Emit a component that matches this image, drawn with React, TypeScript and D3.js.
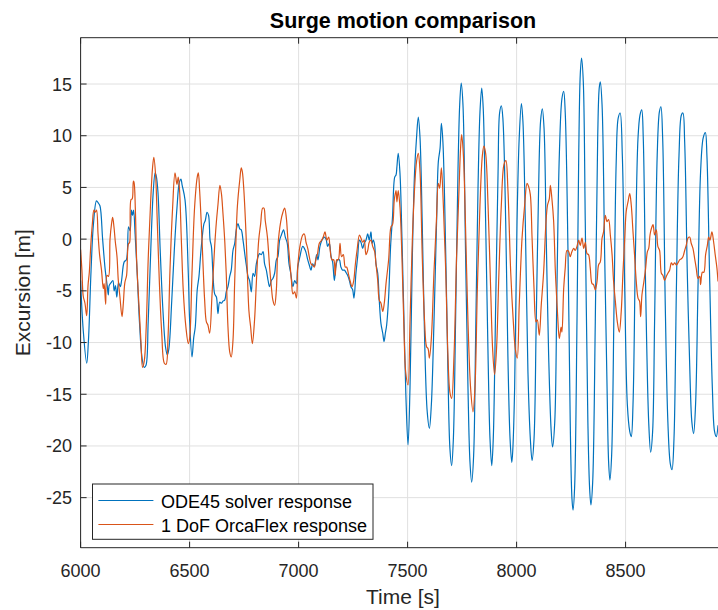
import React from "react";
import * as d3 from "d3";

const title = "Surge motion comparison";
const xLabel = "Time [s]";
const yLabel = "Excursion [m]";
const seriesNames = ["ODE45 solver response", "1 DoF OrcaFlex response"];
const xTicks = [6000, 6500, 7000, 7500, 8000, 8500];
const yTicks = [-25, -20, -15, -10, -5, 0, 5, 10, 15];

// ODE45 solver response: [time s, excursion m]
const odeSeries: [number, number][] = [
  [6000,-4],[6012,-8.8],[6028,-12.0],[6036,-9.8],[6048,-3],[6059,1.5],[6073,3.7],[6081,3.5],[6089,3.2],[6101,0],[6113,-3],[6122,-4.5],[6127,-5.4],[6131,-4.5],[6140,-4.2],[6148,-4.0],[6154,-5.0],[6160,-4.5],[6166,-5.6],[6174,-4.2],[6182,-4.6],[6188,-4.0],[6200,-2.2],[6210,-2.0],[6220,1.2],[6227,0.8],[6233,2.8],[6238,2.3],[6243,2.8],[6250,0.5],[6260,-3.5],[6270,-8],[6282,-11.5],[6292,-12.4],[6300,-12.2],[6310,-8],[6322,-1],[6333,4.5],[6342,6.4],[6348,6.0],[6355,4.5],[6365,-1],[6378,-7],[6390,-10.5],[6398,-11.2],[6405,-10.6],[6418,-6],[6430,-1],[6442,3],[6453,5.5],[6460,5.8],[6466,5.2],[6479,3.8],[6494,-3.3],[6500,-7.8],[6511,-11.4],[6519,-9.5],[6526,-8.5],[6535,-4.9],[6543,-3.6],[6551,-1.4],[6558,0.2],[6566,1.5],[6572,1.8],[6580,2.6],[6587,2.3],[6594,-0.1],[6600,-0.7],[6607,-3.3],[6615,-5.3],[6623,-5.6],[6630,-7.2],[6638,-6.1],[6646,-6.2],[6653,-6.0],[6661,-5.9],[6668,-5.1],[6676,-4.6],[6684,-3.6],[6691,-3.0],[6699,-1.1],[6707,-0.4],[6714,0.9],[6722,1.5],[6730,1.0],[6737,0.9],[6745,-0.1],[6753,-1.4],[6760,-2.5],[6768,-3.6],[6775,-4.0],[6783,-5.1],[6791,-3.3],[6798,-3.6],[6806,-2.4],[6814,-1.7],[6821,-1.4],[6829,-1.5],[6837,-1.2],[6844,-2.4],[6852,-3.0],[6860,-4.0],[6867,-4.6],[6875,-4.0],[6882,-3.8],[6890,-3.3],[6898,-2.0],[6905,-1.7],[6913,-0.1],[6921,0.4],[6931,0.9],[6939,0.2],[6948,-0.4],[6956,-2.4],[6964,-3.3],[6974,-4.6],[6982,-4.0],[6990,-4.3],[6996,-2.7],[7006,-1.7],[7019,-0.7],[7031,-1.1],[7042,-2.0],[7049,-2.5],[7057,-3.0],[7064,-2.4],[7072,-2.6],[7083,-1.5],[7089,-2.0],[7098,-0.7],[7107,-0.1],[7118,0.2],[7126,0.0],[7133,-0.7],[7141,-0.4],[7149,-1.7],[7156,-2.2],[7164,-4.0],[7171,-2.7],[7179,-2.0],[7187,-2.0],[7194,-2.7],[7202,-3.0],[7210,-3.0],[7217,-3.2],[7225,-3.5],[7233,-4.0],[7240,-4.6],[7248,-4.9],[7254,-5.7],[7263,-3.3],[7271,-1.7],[7279,-0.1],[7286,-0.3],[7294,-0.9],[7301,-0.4],[7309,-0.1],[7317,0.5],[7324,-0.1],[7332,0.7],[7337,-0.4],[7343,-0.1],[7349,-0.6],[7355,-2.4],[7363,-3.3],[7370,-5.9],[7378,-8.2],[7386,-9.1],[7392,-9.9],[7398,-9.1],[7404,-8.3],[7413,-5.6],[7422,-0.7],[7431,2.2],[7441,6.0],[7447,6.2],[7451,7.0],[7457,8.3],[7465,6.4],[7474,0.2],[7483,-7.5],[7492,-15],[7502,-19.9],[7511,-14.4],[7522,-1.5],[7532,6.5],[7541,9.8],[7549,11.8],[7557,9.8],[7567,1.7],[7578,-9.6],[7590,-16.7],[7600,-18.3],[7609,-16.0],[7621,-8.0],[7633,1.7],[7641,7.5],[7649,8.8],[7655,11.2],[7662,9.4],[7675,-1.5],[7685,-12.8],[7694,-20.2],[7702,-21.9],[7710,-19.3],[7720,-8.0],[7731,6.5],[7739,13.0],[7746,15.1],[7754,13.0],[7766,-1.5],[7777,-14.4],[7786,-21.5],[7794,-23.5],[7803,-20.9],[7812,-9.6],[7823,4.9],[7832,12.3],[7840,14.6],[7847,12.6],[7858,1.7],[7869,-11.2],[7878,-19.3],[7886,-21.9],[7893,-19.3],[7904,-6.4],[7915,6.5],[7922,12.2],[7930,12.9],[7937,11.7],[7950,1.7],[7960,-11.2],[7970,-19.3],[7978,-21.6],[7983,-20.2],[7991,-14.4],[8002,1.7],[8012,9.8],[8022,13.1],[8029,11.4],[8040,1.7],[8052,-12.8],[8063,-19.3],[8071,-21.4],[8080,-19.3],[8090,-8.0],[8101,4.9],[8110,11.4],[8118,12.6],[8126,10.7],[8136,0.1],[8147,-11.2],[8158,-18.3],[8165,-20.1],[8175,-17.7],[8185,-4.8],[8196,8.1],[8208,13.6],[8216,14.3],[8223,12.3],[8236,-1.5],[8246,-17.7],[8254,-25.1],[8259,-26.2],[8266,-24.1],[8277,-8.0],[8285,8.1],[8292,15.9],[8298,17.5],[8306,15.2],[8315,1.7],[8327,-17.7],[8335,-24.1],[8341,-25.7],[8349,-23.5],[8361,-8.0],[8372,9.8],[8379,14.6],[8384,15.2],[8392,13.0],[8404,-1.5],[8415,-14.4],[8422,-21.5],[8428,-23.3],[8436,-20.9],[8447,-6.4],[8457,7.5],[8466,11.7],[8475,12.2],[8485,8.1],[8496,-4.8],[8508,-16.0],[8519,-18.6],[8526,-19.1],[8534,-16.0],[8545,-1.5],[8557,9.8],[8566,12.0],[8574,12.5],[8581,9.8],[8592,-4.8],[8606,-17.7],[8615,-20.6],[8624,-18.6],[8633,-8.0],[8645,8.1],[8655,12.3],[8662,12.8],[8670,9.8],[8682,-6.4],[8694,-17.7],[8705,-21.7],[8713,-22.3],[8722,-19.3],[8733,-4.8],[8745,8.1],[8756,12.0],[8763,12.2],[8771,9.4],[8783,-3.2],[8797,-14.4],[8804,-17.7],[8812,-18.8],[8821,-16.0],[8832,-4.8],[8844,6.5],[8856,9.8],[8866,10.3],[8873,8.1],[8885,-3.2],[8898,-14.4],[8908,-18.6],[8916,-19.1],[8924,-18.0]
];

// 1 DoF OrcaFlex response: [time s, excursion m]
const orcaSeries: [number, number][] = [
  [6000,-1.0],[6006,-3],[6012,-5.5],[6020,-6.2],[6028,-7.4],[6034,-4.5],[6040,-3.2],[6047,-0.5],[6054,1.5],[6061,2.8],[6067,2.6],[6073,2.8],[6080,0.5],[6087,-1.5],[6096,-3.0],[6104,-4.8],[6108,-4.3],[6115,-6.3],[6121,-3.5],[6128,-3.6],[6135,0],[6142,1.5],[6147,2.1],[6153,1.2],[6159,-0.2],[6167,-1.7],[6173,-4],[6180,-5.5],[6190,-7.5],[6196,-6.2],[6203,-4.2],[6211,-3.5],[6219,-0.5],[6225,-0.3],[6231,3.8],[6237,3.9],[6242,5.6],[6245,5.5],[6251,3.0],[6257,-2],[6268,-6.5],[6277,-10],[6284,-12.4],[6292,-11.8],[6301,-8.5],[6310,-2],[6321,3.5],[6330,6.9],[6336,7.9],[6344,6.2],[6352,1.5],[6361,-4],[6372,-9],[6384,-12.0],[6392,-12.1],[6401,-9.5],[6410,-3],[6422,3],[6433,6.4],[6442,5.3],[6448,6.0],[6454,4.7],[6462,0],[6471,-5],[6483,-8.5],[6494,-10.1],
  [6500,-9.6],[6511,-3.3],[6523,3.1],[6535,6.0],[6540,6.4],[6546,4.7],[6557,-0.1],[6569,-5.9],[6577,-8.0],[6584,-8.3],[6592,-9.1],[6603,-5.3],[6615,-0.7],[6623,1.7],[6630,3.3],[6639,5.2],[6646,4.4],[6653,2.5],[6661,-0.1],[6668,-3.3],[6676,-8.5],[6684,-10.9],[6691,-11.4],[6699,-9.8],[6707,-4.0],[6719,3.1],[6730,5.7],[6737,6.9],[6742,6.5],[6749,4.7],[6760,-0.1],[6772,-6.9],[6780,-8.5],[6788,-10.1],[6798,-7.8],[6806,-4.3],[6817,-0.1],[6826,1.5],[6835,3.0],[6841,3.0],[6847,1.8],[6857,0.2],[6867,-2.7],[6875,-4.6],[6882,-5.9],[6890,-6.4],[6898,-4.9],[6905,-0.7],[6918,1.7],[6928,2.6],[6936,3.0],[6944,2.0],[6951,-0.1],[6959,-2.0],[6967,-4.0],[6974,-5.3],[6982,-5.1],[6990,-5.7],
  [6996,-2.7],[7006,-0.7],[7019,0.4],[7026,0.5],[7034,-0.3],[7042,-0.9],[7049,-1.7],[7057,-2.4],[7064,-2.5],[7072,-2.7],[7080,-1.9],[7087,-1.4],[7095,-0.4],[7106,-0.1],[7113,0.2],[7121,0.7],[7130,-0.1],[7138,0.2],[7145,-1.1],[7153,-2.0],[7161,-2.0],[7168,-3.5],[7175,-2.0],[7182,-2.0],[7190,-0.4],[7197,-1.7],[7205,-1.5],[7214,-2.7],[7220,-2.7],[7230,-3.5],[7237,-4.1],[7245,-4.6],[7253,-4.0],[7260,-2.5],[7268,-1.1],[7279,0.4],[7286,0.1],[7294,-0.3],[7301,-0.1],[7309,-1.5],[7317,-1.1],[7324,-0.3],[7332,-0.1],[7340,-0.7],[7349,-1.2],[7355,-2.4],[7363,-4.0],[7370,-5.9],[7378,-6.2],[7386,-7.0],[7393,-6.2],[7401,-4.3],[7413,-2.0],[7424,1.2],[7431,1.4],[7439,3.8],[7447,4.7],[7451,3.6],[7457,4.7],[7465,3.1],[7474,-1.7],[7483,-8.4],[7491,-12.8],[7502,-14.1],
  [7511,-8.0],[7522,0.1],[7532,4.9],[7541,7.5],[7549,8.3],[7557,6.5],[7567,-1.5],[7578,-8.0],[7587,-10.4],[7594,-10.6],[7600,-11.5],[7609,-9.6],[7621,-3.2],[7632,1.7],[7641,5.4],[7647,4.9],[7655,6.9],[7664,3.3],[7675,-3.2],[7685,-11.2],[7694,-14.8],[7702,-15.4],[7713,-11.2],[7725,-1.5],[7736,4.9],[7743,8.8],[7748,10.1],[7756,8.1],[7766,1.0],[7777,-8.0],[7789,-14.4],[7800,-16.7],[7809,-14.4],[7820,-4.8],[7832,3.3],[7843,8.1],[7850,9.0],[7858,8.3],[7869,3.3],[7881,-4.8],[7890,-10.6],[7899,-13.1],[7908,-10.6],[7919,-3.2],[7930,3.3],[7942,7.2],[7951,7.6],[7960,4.9],[7973,-3.2],[7985,-8.0],
  [7994,-10.6],[8003,-11.5],[8012,-6.4],[8025,0.1],[8037,3.3],[8048,5.4],[8055,5.1],[8063,4.3],[8071,0.1],[8080,-4.8],[8089,-8.0],[8095,-7.8],[8104,-9.3],[8113,-6.4],[8124,-3.2],[8135,1.7],[8142,3.3],[8150,3.9],[8155,5.2],[8162,3.9],[8170,1.7],[8178,-3.2],[8188,-7.3],[8196,-9.6],[8204,-8.5],[8208,-9.0],[8216,-4.8],[8223,-2.8],[8231,-1.1],[8239,-1.2],[8246,-1.7],[8254,-1.2],[8262,-0.9],[8269,-1.1],[8277,-0.7],[8285,-0.1],[8292,-0.6],[8300,0.1],[8308,-0.9],[8315,-0.3],[8323,-1.4],[8330,-1.5],[8338,-2.8],[8346,-4.3],[8353,-4.4],[8361,-4.9],[8369,-4.1],[8376,-2.5],[8384,-2.2],[8392,0.1],[8399,0.7],[8407,2.3],[8415,1.7],[8422,1.9],[8430,0.4],[8438,-1.5],[8445,-4.1],[8453,-6.0],[8462,-8.0],[8471,-9.0],
  [8480,-7.0],[8488,-3.2],[8496,0.1],[8503,2.7],[8511,3.6],[8519,4.4],[8526,3.3],[8534,0.7],[8541,-1.5],[8549,-4.1],[8557,-5.7],[8564,-6.0],[8569,-7.5],[8575,-5.4],[8584,-4.1],[8592,-2.8],[8600,-1.2],[8606,-0.9],[8612,0.4],[8618,1.0],[8626,1.4],[8633,0.4],[8641,0.9],[8648,-0.7],[8656,-1.1],[8664,-3.3],[8671,-3.5],[8679,-4.0],[8687,-3.6],[8694,-3.3],[8702,-3.0],[8710,-2.3],[8717,-2.5],[8725,-2.3],[8733,-2.5],[8740,-2.3],[8748,-2.0],[8756,-1.9],[8763,-1.7],[8771,-1.1],[8778,-0.6],[8786,0.1],[8794,0.2],[8801,-0.4],[8809,-0.9],[8817,-1.9],[8824,-2.8],[8832,-3.8],[8840,-3.6],[8844,-4.4],[8852,-3.2],[8859,-3.2],[8867,-1.5],[8875,-0.6],[8881,0.2],[8887,-0.1],[8896,0.7],[8904,-0.3],[8911,-1.5],[8919,-2.8],[8924,-4.1]
];

const W = 718;
const H = 610;
const plot = { left: 80.6, right: 725, top: 37.7, bottom: 547.7 };
const axisColor = "#262626";
const gridColor = "#e0e0e0";
const colors = ["#0072BD", "#D95319"];
const font = "'Liberation Sans', Arial, Helvetica, sans-serif";

export default function App() {
  const x = d3.scaleLinear().domain([6000, 8956]).range([plot.left, plot.right]);
  const y = d3.scaleLinear().domain([-29.84, 19.48]).range([plot.bottom, plot.top]);
  const line = d3
    .line<[number, number]>()
    .x((d) => x(d[0]))
    .y((d) => y(d[1]))
    .curve(d3.curveCatmullRom.alpha(0.5));
  const tickLen = 6;
  const lg = { x: 92.5, y: 484, w: 280.5, h: 55.3 };

  return (
    <svg
      width={W}
      height={H}
      viewBox={`0 0 ${W} ${H}`}
      style={{ position: "absolute", left: 0, top: 0, background: "#fff" }}
      fontFamily={font}
    >
      <rect x={0} y={0} width={W} height={H} fill="#fff" />
      <defs>
        <clipPath id="plotClip">
          <rect x={plot.left} y={plot.top} width={plot.right - plot.left} height={plot.bottom - plot.top} />
        </clipPath>
      </defs>
      {/* grid */}
      <g stroke={gridColor} strokeWidth={1}>
        {xTicks.map((t) => (
          <line key={"gx" + t} x1={x(t)} x2={x(t)} y1={plot.top} y2={plot.bottom} />
        ))}
        {yTicks.map((t) => (
          <line key={"gy" + t} x1={plot.left} x2={plot.right} y1={y(t)} y2={y(t)} />
        ))}
      </g>
      {/* series */}
      <g clipPath="url(#plotClip)" fill="none" strokeWidth={1.2} strokeLinejoin="round">
        <path d={line(odeSeries) || ""} stroke={colors[0]} />
        <path d={line(orcaSeries) || ""} stroke={colors[1]} />
      </g>
      {/* axes box */}
      <g stroke={axisColor} strokeWidth={1} fill="none">
        <line x1={plot.left} x2={plot.right} y1={plot.top} y2={plot.top} />
        <line x1={plot.left} x2={plot.right} y1={plot.bottom} y2={plot.bottom} />
        <line x1={plot.left} x2={plot.left} y1={plot.top} y2={plot.bottom} />
        {xTicks.map((t) => (
          <g key={"tx" + t}>
            <line x1={x(t)} x2={x(t)} y1={plot.bottom} y2={plot.bottom - tickLen} />
            <line x1={x(t)} x2={x(t)} y1={plot.top} y2={plot.top + tickLen} />
          </g>
        ))}
        {yTicks.map((t) => (
          <line key={"ty" + t} x1={plot.left} x2={plot.left + tickLen} y1={y(t)} y2={y(t)} />
        ))}
      </g>
      {/* tick labels */}
      <g fill={axisColor} fontSize={18}>
        {xTicks.map((t) => (
          <text key={"lx" + t} x={x(t)} y={576.7} textAnchor="middle">
            {t}
          </text>
        ))}
        {yTicks.map((t) => (
          <text key={"ly" + t} x={72} y={y(t) + 6.5} textAnchor="end">
            {t}
          </text>
        ))}
      </g>
      {/* axis labels */}
      <text x={403} y={604} textAnchor="middle" fontSize={21} fill={axisColor}>
        {xLabel}
      </text>
      <text
        transform={`translate(30, ${(plot.top + plot.bottom) / 2}) rotate(-90)`}
        textAnchor="middle"
        fontSize={21}
        fill={axisColor}
      >
        {yLabel}
      </text>
      {/* title */}
      <text x={403} y={28} textAnchor="middle" fontSize={21.5} fontWeight="bold" fill="#000">
        {title}
      </text>
      {/* legend */}
      <g>
        <rect x={lg.x} y={lg.y} width={lg.w} height={lg.h} fill="#fff" stroke={axisColor} strokeWidth={1} />
        {seriesNames.map((name, i) => {
          const cy = i === 0 ? 500.5 : 524.5;
          return (
            <g key={name}>
              <line x1={98.4} x2={153.4} y1={cy} y2={cy} stroke={colors[i]} strokeWidth={1.2} />
              <text x={161} y={cy + 7.8} fontSize={18} fill="#000">
                {name}
              </text>
            </g>
          );
        })}
      </g>
    </svg>
  );
}
